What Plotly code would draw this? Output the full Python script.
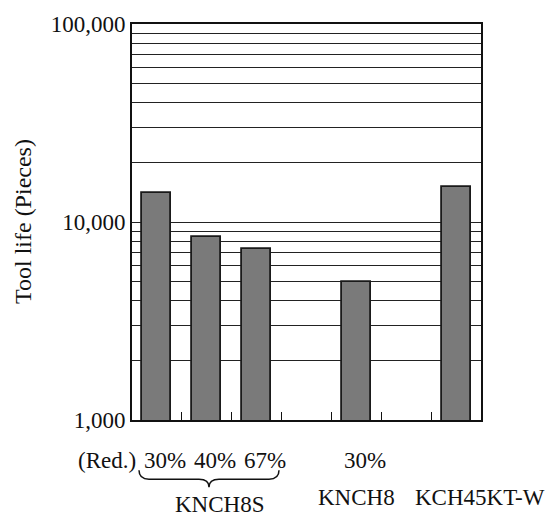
import plotly.graph_objects as go

# ---- data ----
categories = ["KNCH8S 30%", "KNCH8S 40%", "KNCH8S 67%", "", "KNCH8 30%", "", "KCH45KT-W"]
bar_positions = [0, 1, 2, 4, 6]
tool_life = [14000, 8400, 7300, 5000, 15000]
reduction_labels = ["30%", "40%", "67%", "30%"]
reduction_positions = [0, 1, 2, 4]
group_labels = ["KNCH8S", "KNCH8", "KCH45KT-W"]
y_major = [1000, 10000, 100000]
y_major_text = ["1,000", "10,000", "100,000"]

FONT = "Times New Roman, Liberation Serif, serif"
FS = 23
BAR_W = 0.58

grid_vals = []
for dec in [1000, 10000]:
    for k in range(1, 10):
        grid_vals.append(dec * k)
grid_vals.append(100000)
grid_text = [y_major_text[y_major.index(v)] if v in y_major else "" for v in grid_vals]

fig = go.Figure()
fig.add_trace(go.Bar(
    x=bar_positions, y=tool_life, width=BAR_W,
    marker=dict(color="#7a7a7a", line=dict(color="#1a1a1a", width=1.8)),
    hoverinfo="y",
))

L, R, T, B = 132, 76, 19, 96
W, H = 557, 516
pw = W - L - R
ph = H - T - B

def px_x(px):
    return (px - L) / pw

def px_y(py):
    return (H - B - py) / ph

annotations = []
# (Red.)
annotations.append(dict(x=-BAR_W / 2, xref="x", y=0, yref="paper", yshift=-40,
                        text="(Red.)", showarrow=False, xanchor="right", yanchor="middle",
                        xshift=-4, font=dict(family=FONT, size=FS, color="#111")))
for p, t in zip(reduction_positions, reduction_labels):
    annotations.append(dict(x=p - BAR_W / 2, xref="x", y=0, yref="paper", yshift=-40,
                            text=t, showarrow=False, xanchor="left", yanchor="middle",
                            font=dict(family=FONT, size=FS, color="#111")))
# group names
group_x = [1, 4, 6]
group_shift = [13, 0, 24]
group_dy = [-84, -77, -77]
for gx, gs, gd, gt in zip(group_x, group_shift, group_dy, group_labels):
    annotations.append(dict(x=gx, xref="x", y=0, yref="paper", yshift=gd, xshift=gs,
                            text=gt, showarrow=False, xanchor="center", yanchor="middle",
                            font=dict(family=FONT, size=FS, color="#111")))
# y title
annotations.append(dict(x=px_x(23), xref="paper", y=0.5, yref="paper",
                        text="Tool life (Pieces)", textangle=-90, showarrow=False,
                        xanchor="center", yanchor="middle",
                        font=dict(family=FONT, size=24, color="#111")))

# brace
x0, x1, xc = px_x(139), px_x(279), px_x(209)
y0, ym, yt = px_y(471), px_y(480), px_y(488)
d = px_x(139 + 10) - px_x(139)
path = (f"M {x0},{y0} Q {x0},{ym} {x0 + d},{ym} L {xc - d},{ym} "
        f"Q {xc},{ym} {xc},{yt} Q {xc},{ym} {xc + d},{ym} L {x1 - d},{ym} "
        f"Q {x1},{ym} {x1},{y0}")
shapes = [dict(type="path", xref="paper", yref="paper", path=path,
               line=dict(color="#111", width=1.5))]

fig.update_layout(
    width=W, height=H,
    margin=dict(l=L, r=R, t=T, b=B, pad=0),
    plot_bgcolor="white", paper_bgcolor="white",
    showlegend=False,
    bargap=0,
    annotations=annotations,
    shapes=shapes,
    xaxis=dict(range=[-0.5, 6.5], tickvals=[0.5, 1.5, 2.5, 3.5, 4.5, 5.5],
               ticktext=[""] * 6, ticks="inside", ticklen=8, tickwidth=1.2,
               tickcolor="#111", showgrid=False, zeroline=False,
               showline=True, linecolor="#111", linewidth=2, mirror=True),
    yaxis=dict(type="log", range=[3, 5], tickvals=grid_vals, ticktext=grid_text,
               ticks="", showgrid=True, gridcolor="#222", gridwidth=1.2,
               showline=True, linecolor="#111", linewidth=2, mirror=True,
               zeroline=False,
               tickfont=dict(family=FONT, size=FS, color="#111")),
)

fig.write_html("out.html", config={"displayModeBar": False},
               post_script="document.body.style.margin='0';document.body.style.overflow='hidden';")
